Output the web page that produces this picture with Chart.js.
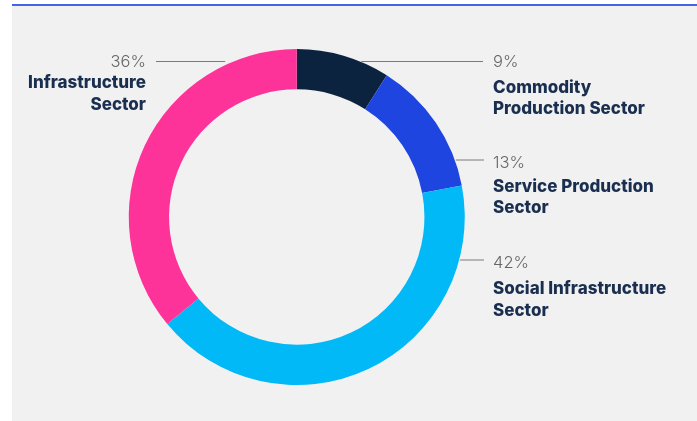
<!DOCTYPE html>
<html>
<head>
<meta charset="utf-8">
<script src="https://cdn.jsdelivr.net/npm/chart.js@4/dist/chart.umd.min.js"></script>
<style>
  html, body { margin: 0; padding: 0; background: #ffffff; }
  #wrap { position: relative; width: 697px; height: 421px; }
</style>
</head>
<body>
<div id="wrap"><canvas id="c" width="697" height="421"></canvas></div>
<script>
// Sector shares (%)
const categories = ['Commodity Production Sector', 'Service Production Sector', 'Social Infrastructure Sector', 'Infrastructure Sector'];
const shares = [9, 13, 42, 36];
const sliceColors = ['#0c2340', '#1f45e0', '#00b9f6', '#fe3399'];

// Label text broken into lines, with where each callout sits
const labelLines = [
  ['Commodity', 'Production Sector'],
  ['Service Production', 'Sector'],
  ['Social Infrastructure', 'Sector'],
  ['Infrastructure', 'Sector']
];
const calloutLayout = [
  { side: 'right', lineY: 61.5,  lineEnd: 483, textX: 493, pctY: 67,  nameY: [92.5, 114] },
  { side: 'right', lineY: 160,   lineEnd: 484, textX: 493, pctY: 168, nameY: [191.5, 212.5] },
  { side: 'right', lineY: 260,   lineEnd: 484, textX: 493, pctY: 267.5, nameY: [293.5, 315.5] },
  { side: 'left',  lineY: 61.5,  lineEnd: 156, textX: 146, pctY: 67,  nameY: [88, 109.5] }
];

const panelBackground = {
  id: 'panelBackground',
  beforeDraw(chart) {
    const ctx = chart.ctx;
    ctx.save();
    ctx.fillStyle = '#ffffff';
    ctx.fillRect(0, 0, chart.width, chart.height);
    ctx.fillStyle = '#f1f1f1';
    ctx.fillRect(12, 6, chart.width - 12, chart.height - 6);
    ctx.fillStyle = '#4563e6';
    ctx.fillRect(12, 4, chart.width - 12, 2);
    ctx.restore();
  }
};

const callouts = {
  id: 'callouts',
  afterDraw(chart) {
    const ctx = chart.ctx;
    const meta = chart.getDatasetMeta(0);
    const arc0 = meta.data[0];
    const cx = arc0.x, cy = arc0.y, R = arc0.outerRadius;
    ctx.save();
    calloutLayout.forEach((c, i) => {
      const dy = c.lineY - cy;
      const edge = Math.sqrt(Math.max(R * R - dy * dy, 0));
      // leader line
      ctx.strokeStyle = '#7a7a7a';
      ctx.lineWidth = 1;
      ctx.beginPath();
      if (c.side === 'right') {
        ctx.moveTo(cx + edge + 1, c.lineY);
        ctx.lineTo(c.lineEnd, c.lineY);
      } else {
        ctx.moveTo(c.lineEnd, c.lineY);
        ctx.lineTo(cx - edge - 8, c.lineY);
      }
      ctx.stroke();
      // percentage
      ctx.textAlign = c.side === 'right' ? 'left' : 'right';
      ctx.textBaseline = 'alphabetic';
      ctx.fillStyle = '#666666';
      ctx.font = '300 16.5px Inter, "Noto Sans", sans-serif';
      ctx.fillText(shares[i] + '%', c.textX, c.pctY);
      // sector name
      ctx.fillStyle = '#1a2f4f';
      ctx.font = '800 17px Inter, "Noto Sans", sans-serif';
      labelLines[i].forEach((t, k) => ctx.fillText(t, c.textX, c.nameY[k]));
    });
    ctx.restore();
  }
};

new Chart(document.getElementById('c'), {
  type: 'doughnut',
  data: {
    labels: categories,
    datasets: [{
      data: shares,
      backgroundColor: sliceColors,
      borderWidth: 0,
      hoverOffset: 0
    }]
  },
  options: {
    responsive: false,
    animation: false,
    cutout: '76%',
    rotation: 0,
    layout: { padding: { top: 49, bottom: 36, left: 128.5, right: 232 } },
    plugins: {
      legend: { display: false },
      tooltip: { enabled: false }
    }
  },
  plugins: [panelBackground, callouts]
});
</script>
</body>
</html>
